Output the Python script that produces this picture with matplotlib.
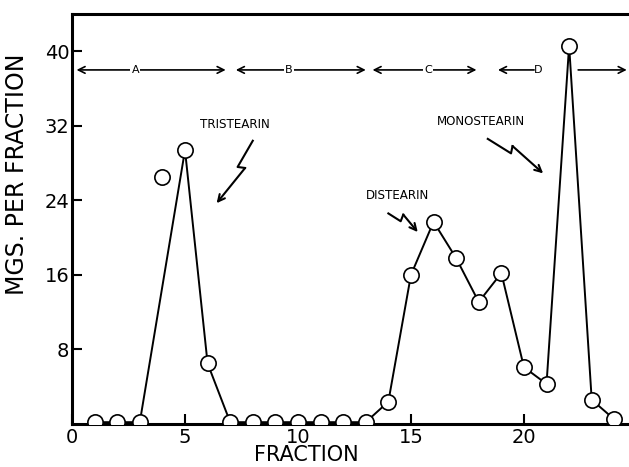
import numpy as np
import matplotlib
matplotlib.use("Agg")
import matplotlib.pyplot as plt

# fraction number and mgs per fraction
fraction = [1, 2, 3, 4, 5, 6, 7, 8, 9, 10, 11, 12, 13, 14, 15, 16, 17, 18, 19, 20, 21, 22, 23, 24]
mgs = [0.2, 0.2, 0.2, 26.5, 29.4, 6.5, 0.2, 0.2, 0.2, 0.2, 0.2, 0.2, 0.2, 2.4, 16.0, 21.7,
       17.8, 13.1, 16.2, 6.1, 4.3, 40.6, 2.6, 0.5]
off_curve = [4]  # point plotted but not on the drawn curve

# zones A-D along the top
bands = ["A", "B", "C"]
band_start = [0.2, 7.25, 13.3]
band_end = [6.8, 13.0, 17.9]
band_label_x = [2.8, 9.6, 15.75]
band_y = 38

# peak labels: text pos, arrow start, arrow tip
peaks = ["TRISTEARIN", "DISTEARIN", "MONOSTEARIN"]
peak_text = [(7.2, 31.4), (14.4, 23.8), (18.1, 31.8)]
peak_from = [(8.0, 30.4), (14.0, 22.6), (18.4, 30.6)]
peak_to = [(6.4, 23.7), (15.3, 20.6), (20.85, 26.9)]

x_ticks = [0, 5, 10, 15, 20]
y_ticks = [8, 16, 24, 32, 40]

plt.rcParams['font.family'] = ['DejaVu Sans']

fig = plt.figure(figsize=(6.29, 4.67), dpi=100)
ax = fig.add_axes([0.1145, 0.092, 0.8855, 0.878])

line_x = [f for f in fraction if f not in off_curve]
line_y = [m for f, m in zip(fraction, mgs) if f not in off_curve]
ax.plot(line_x, line_y, color='black', lw=1.4, zorder=2)
ax.plot(fraction, mgs, 'o', ms=11, mfc='white', mec='black', mew=1.2, zorder=3)

ax.set_xlim(0, 24.65)
ax.set_ylim(0, 44)
ax.set_xticks(x_ticks)
ax.set_yticks(y_ticks)
ax.tick_params(direction='in', length=7, width=1.5, labelsize=14)
ax.tick_params(axis='y', pad=2)
ax.tick_params(axis='x', pad=3)
for s in ['left', 'bottom', 'top']:
    ax.spines[s].set_linewidth(2.2)
ax.spines['right'].set_visible(False)
ax.set_xlabel("FRACTION", fontsize=15)
ax.xaxis.set_label_coords(0.42, -0.052)
ax.set_ylabel("MGS. PER FRACTION", fontsize=17)
ax.yaxis.set_label_coords(-0.077, 0.61)

arrow_kw = dict(arrowstyle='<->', color='black', lw=1.2, mutation_scale=12,
                shrinkA=0, shrinkB=0)
for lab, a, b, lx in zip(bands, band_start, band_end, band_label_x):
    ax.annotate('', xy=(a, band_y), xytext=(b, band_y), arrowprops=arrow_kw)
    ax.text(lx, band_y, lab, fontsize=8, ha='center', va='center',
            bbox=dict(fc='white', ec='none', pad=1))
# zone D is cut by the monostearin peak
ax.annotate('', xy=(18.85, band_y), xytext=(20.45, band_y),
            arrowprops=dict(arrow_kw, arrowstyle='->'))
ax.text(20.65, band_y, "D", fontsize=8, ha='center', va='center')
ax.annotate('', xy=(24.55, band_y), xytext=(22.4, band_y),
            arrowprops=dict(arrow_kw, arrowstyle='->'))

# lightning-bolt pointers
sx, sy = 22.6, 9.33
for lab, t, p0, p1 in zip(peaks, peak_text, peak_from, peak_to):
    ax.text(t[0], t[1], lab, fontsize=8.6, ha='center', va='bottom')
    a = np.array([p0[0] * sx, p0[1] * sy])
    b = np.array([p1[0] * sx, p1[1] * sy])
    d = b - a
    n = np.array([-d[1], d[0]]) / np.hypot(*d)
    k1 = a + 0.42 * d
    k2 = k1 + 7 * n - 0.04 * d
    pts = np.array([a, k1, k2])
    ax.plot(pts[:, 0] / sx, pts[:, 1] / sy, color='black', lw=1.5)
    ax.annotate('', xy=(b[0] / sx, b[1] / sy), xytext=(k2[0] / sx, k2[1] / sy),
                arrowprops=dict(arrowstyle='->', color='black', lw=1.5,
                                mutation_scale=12, shrinkA=0, shrinkB=0))

fig.savefig("out.png", dpi=100)
